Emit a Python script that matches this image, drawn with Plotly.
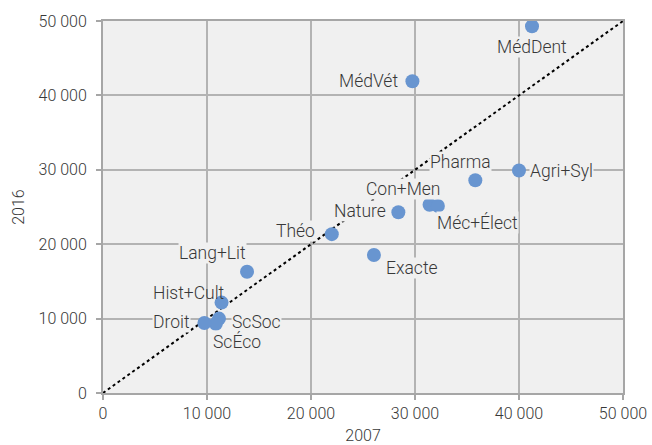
import plotly.graph_objects as go

labels = ["MédDent", "MédVét", "Agri+Syl", "Pharma", "Con+Men", "Méc+Élect", "Nature",
          "Théo", "Exacte", "Lang+Lit", "Hist+Cult", "ScSoc", "ScÉco", "Droit"]
v2007 = [41250, 29750, 40000, 35800, 31400, 32200, 28400, 22000, 26050, 13850, 11400, 11150, 10850, 9750]
v2016 = [49300, 41900, 29900, 28600, 25300, 25150, 24300, 21350, 18550, 16300, 12150, 10000, 9300, 9400]

# label placement (anchor, xshift px, yshift px, opaque background)
label_pos = {
    "MédDent": ("center", 0, -21, True),
    "MédVét": ("right", -13, 0, True),
    "Agri+Syl": ("left", 10, 0, True),
    "Pharma": ("center", -15, 18, True),
    "Con+Men": ("center", -26, 16, True),
    "Méc+Élect": ("left", -2, -17, True),
    "Nature": ("right", -11, 1, True),
    "Théo": ("right", -16, 3, True),
    "Exacte": ("left", 11, -13, True),
    "Lang+Lit": ("right", 0, 19, True),
    "Hist+Cult": ("right", 3, 10, False),
    "ScSoc": ("left", 12, -3, True),
    "ScÉco": ("left", -4, -18, True),
    "Droit": ("right", -13, 1, True),
}

diag = [0, 50000]
txt = "#383838"
tick_font = dict(family="Roboto", size=16, color=txt, weight=300)
label_font = dict(family="Roboto", size=17.5, color=txt, weight=300)

fig = go.Figure()
fig.add_trace(go.Scatter(x=diag, y=diag, mode="lines",
                         line=dict(color="black", width=2, dash="dot"),
                         hoverinfo="skip", showlegend=False))
fig.add_trace(go.Scatter(x=v2007, y=v2016, mode="markers", text=labels,
                         marker=dict(color="#6895d0", size=14),
                         showlegend=False))

for lab, x, y in zip(labels, v2007, v2016):
    anc, dx, dy, opaque = label_pos[lab]
    fig.add_annotation(x=x, y=y, text=lab, showarrow=False, xanchor=anc, yanchor="middle",
                       xshift=dx, yshift=dy, font=label_font,
                       bgcolor="#f0f0f0" if opaque else "rgba(0,0,0,0)", borderpad=0)

axis_common = dict(range=[0, 50000], dtick=10000, tickformat=",d",
                   showgrid=True, gridcolor="#b3b3b3", gridwidth=1.5,
                   showline=True, linecolor="#a6a6a6", linewidth=2, mirror=True,
                   ticks="outside", ticklen=5, tickcolor="#a6a6a6", tickwidth=1.5,
                   zeroline=False, tickfont=tick_font, fixedrange=True, automargin=False)

fig.update_layout(
    width=652, height=445,
    margin=dict(l=103, r=29, t=21, b=52),
    paper_bgcolor="white", plot_bgcolor="#f0f0f0",
    separators=". ",
    font=tick_font,
    xaxis=dict(title=dict(text="2007", font=tick_font, standoff=10), **axis_common),
    yaxis=dict(title=dict(text="2016", font=tick_font, standoff=10), ticklabelstandoff=6,
               **axis_common),
)

fig.write_html("out.html", config={"displayModeBar": False},
               post_script="document.body.style.margin='0';")
